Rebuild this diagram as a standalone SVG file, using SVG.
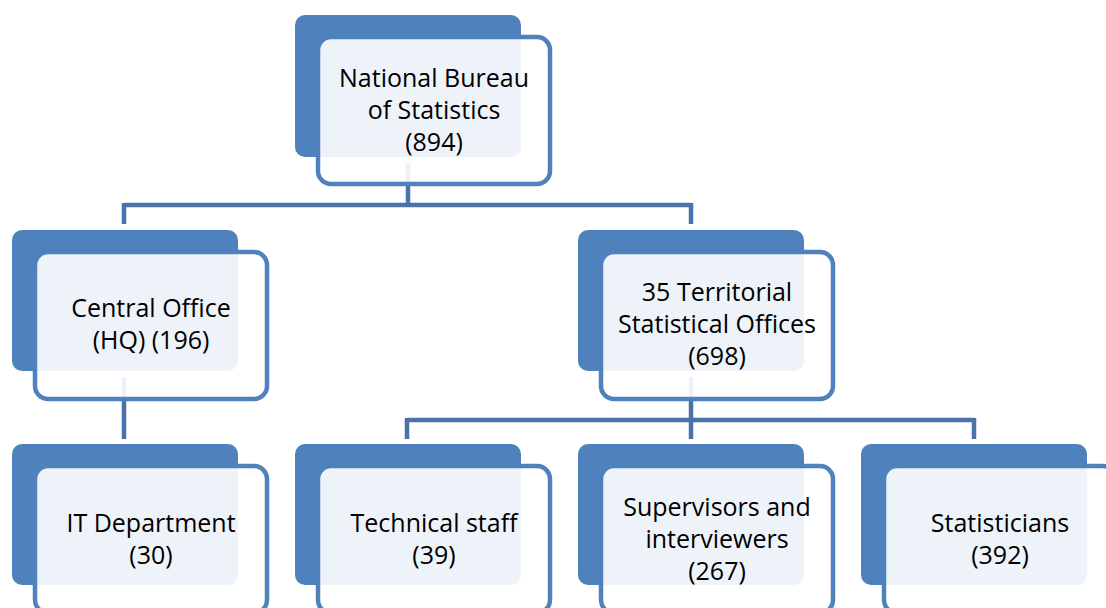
<svg xmlns="http://www.w3.org/2000/svg" width="1106" height="608" viewBox="0 0 1106 608">
<style>
.back{fill:#4F81BD;}
.front{fill:#FFFFFF;fill-opacity:0.9;stroke:#4F81BD;stroke-width:4.5;}
.conn{fill:none;stroke:#4A72A9;stroke-width:4.5;stroke-linecap:butt;}
text{font-family:"Open Sans","Noto Sans","Liberation Sans",sans-serif;font-size:25px;fill:#000;text-anchor:middle;}
</style>
<rect width="1106" height="608" fill="#FFFFFF"/>
<g id="connectors">
<path class="conn" d="M408 163V205M124 205H691M124 203V224M691 203V224"/>
<path class="conn" d="M124 377V439"/>
<path class="conn" d="M691 377V439M407 420H975M407 418V439M974 418V439"/>
</g>
<g id="nbs">
<rect class="back" x="295" y="15" width="226" height="142" rx="10"/>
<rect class="front" x="318" y="37" width="232" height="147" rx="13"/>
<text x="434" y="87">National Bureau</text>
<text x="434" y="119">of Statistics</text>
<text x="434" y="151">(894)</text>
</g>
<g id="central">
<rect class="back" x="12" y="230" width="226" height="141" rx="10"/>
<rect class="front" x="35" y="252" width="232" height="147" rx="13"/>
<text x="151" y="317">Central Office</text>
<text x="151" y="349">(HQ) (196)</text>
</g>
<g id="territorial">
<rect class="back" x="578" y="230" width="226" height="141" rx="10"/>
<rect class="front" x="601" y="252" width="232" height="147" rx="13"/>
<text x="717" y="301">35 Territorial</text>
<text x="717" y="333">Statistical Offices</text>
<text x="717" y="365">(698)</text>
</g>
<g id="it">
<rect class="back" x="12" y="444" width="226" height="141" rx="10"/>
<rect class="front" x="35" y="466" width="232" height="147" rx="13"/>
<text x="151" y="532">IT Department</text>
<text x="151" y="564">(30)</text>
</g>
<g id="technical">
<rect class="back" x="295" y="444" width="226" height="141" rx="10"/>
<rect class="front" x="318" y="466" width="232" height="147" rx="13"/>
<text x="434" y="532">Technical staff</text>
<text x="434" y="564">(39)</text>
</g>
<g id="supervisors">
<rect class="back" x="578" y="444" width="226" height="141" rx="10"/>
<rect class="front" x="601" y="466" width="232" height="147" rx="13"/>
<text x="717" y="516">Supervisors and</text>
<text x="717" y="548">interviewers</text>
<text x="717" y="580">(267)</text>
</g>
<g id="statisticians">
<rect class="back" x="861" y="444" width="226" height="141" rx="10"/>
<rect class="front" x="884" y="466" width="232" height="147" rx="13"/>
<text x="1000" y="532">Statisticians</text>
<text x="1000" y="564">(392)</text>
</g>
</svg>
